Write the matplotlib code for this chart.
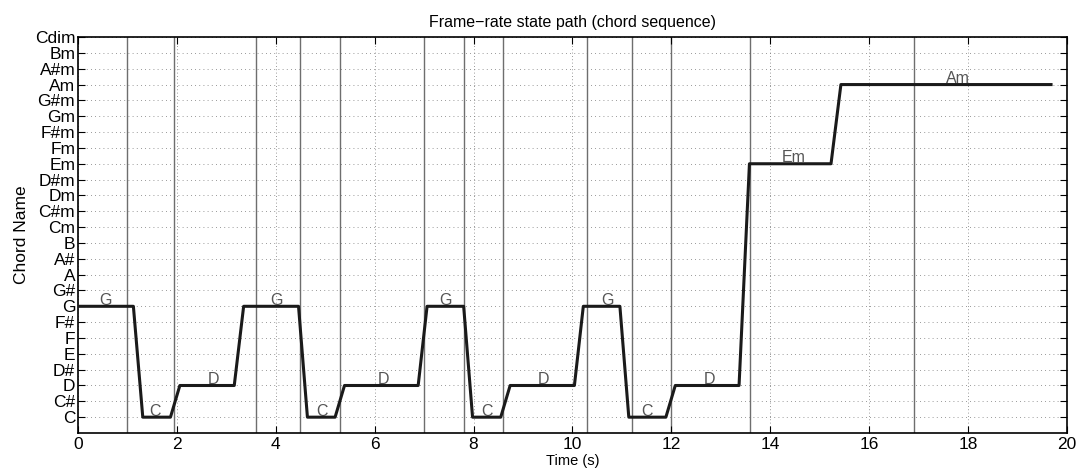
import matplotlib
matplotlib.use("Agg")
import matplotlib.pyplot as plt

plt.rcParams['font.family'] = ['Liberation Sans', 'DejaVu Sans']

# chord vocabulary (y axis)
chords = ['C', 'C#', 'D', 'D#', 'E', 'F', 'F#', 'G', 'G#', 'A', 'A#', 'B',
          'Cm', 'C#m', 'Dm', 'D#m', 'Em', 'Fm', 'F#m', 'Gm', 'G#m', 'Am',
          'A#m', 'Bm', 'Cdim']

# frame-rate state path
path_t = [0, 1.12, 1.31, 1.87, 2.06, 3.16, 3.35, 4.46, 4.64, 5.20, 5.39,
          6.88, 7.06, 7.80, 7.98, 8.55, 8.74, 10.04, 10.22, 10.96, 11.14,
          11.89, 12.08, 13.37, 13.58, 15.23, 15.43, 19.68]
path_chord = ['G', 'G', 'C', 'C', 'D', 'D', 'G', 'G', 'C', 'C', 'D', 'D',
              'G', 'G', 'C', 'C', 'D', 'D', 'G', 'G', 'C', 'C', 'D', 'D',
              'Em', 'Em', 'Am', 'Am']

# segment boundaries (vertical lines)
boundaries = [1.0, 1.95, 3.6, 4.5, 5.3, 7.0, 7.8, 8.6, 10.3, 11.2, 12.0,
              13.6, 16.9]

# segment labels
label_names = ['G', 'C', 'D', 'G', 'C', 'D', 'G', 'C', 'D', 'G', 'C', 'D',
               'Em', 'Am']
label_x = [0.55, 1.56, 2.74, 4.02, 4.93, 6.17, 7.44, 8.28, 9.41, 10.71,
           11.51, 12.78, 14.48, 17.80]

idx = {c: i for i, c in enumerate(chords)}

fig = plt.figure(figsize=(10.76, 4.75), dpi=100)
ax = fig.add_axes([0.0725, 0.0884, 0.919, 0.8336])

# grid
for i in range(len(chords)):
    ax.axhline(i, color='#777777', lw=0.6, ls=(0, (1, 4)), zorder=0)
for xt in range(0, 21, 2):
    ax.axvline(xt, color='#777777', lw=0.6, ls=(0, (1, 3)), zorder=0)

for b in boundaries:
    ax.axvline(b, color='#6e6e6e', lw=1.0, zorder=1)

for name, x in zip(label_names, label_x):
    ax.text(x, idx[name] + 0.1, name, color='#555555', fontsize=11.5,
            ha='center', va='baseline', zorder=2)

ax.plot(path_t, [idx[c] for c in path_chord], color='#1a1a1a', lw=2.2,
        zorder=3)

ax.set_xlim(0, 20)
ax.set_ylim(-1, 24)
ax.set_xticks(range(0, 21, 2))
ax.set_yticks(range(len(chords)))
ax.set_yticklabels(chords)
ax.tick_params(direction='in', top=True, right=True, length=5, width=0.8,
               labelsize=12.5, pad=3)
ax.tick_params(axis='y', pad=2)
for s in ax.spines.values():
    s.set_linewidth(1.2)

ax.set_title('Frame\u2212rate state path (chord sequence)', fontsize=11.5,
             pad=7)
ax.set_ylabel('Chord Name', fontsize=12.5, labelpad=4)
ax.set_xlabel('Time (s)', fontsize=10.5, labelpad=1)

fig.savefig('out.png', dpi=100)
